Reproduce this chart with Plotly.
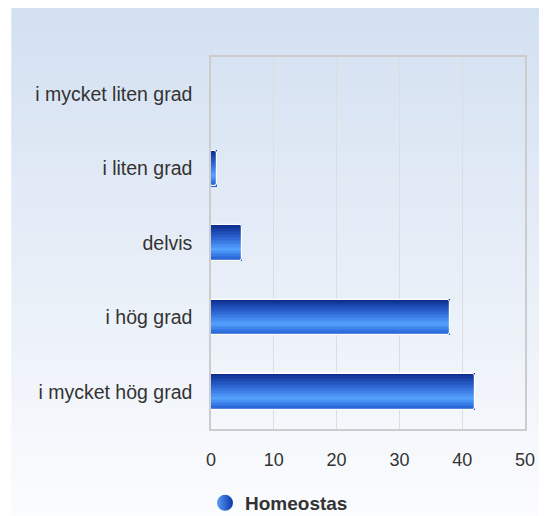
import plotly.graph_objects as go

categories = ["i mycket liten grad", "i liten grad", "delvis", "i hög grad", "i mycket hög grad"]
values = [0, 0.9, 5, 38, 42]
series_name = "Homeostas"
x_ticks = [0, 10, 20, 30, 40, 50]

# page has an 8px body margin, so the figure is drawn 8px smaller / shifted
W, H = 539, 508
L, R, T, B = 203, 519, 49, 421
pw, ph = R - L, B - T

def px_to_paper(x, y):
    return (x - L) / pw, (B - y) / ph

def lerp(c1, c2, t):
    return tuple(round(a + (b - a) * t) for a, b in zip(c1, c2))

def hexrgb(h):
    h = h.lstrip('#')
    return tuple(int(h[i:i+2], 16) for i in (0, 2, 4))

fig = go.Figure()

# vertical gradient inside each bar, built from thin overlaid bar strips
bar_w = 0.48
stops = [(0.0, hexrgb('#0a2a88')), (0.35, hexrgb('#2a62d0')), (0.7, hexrgb('#55a2ff')), (1.0, hexrgb('#1d5ad0'))]
def grad(t):
    for (t0, c0), (t1, c1) in zip(stops[:-1], stops[1:]):
        if t <= t1:
            return lerp(c0, c1, (t - t0) / (t1 - t0))
    return stops[-1][1]

N = 24
sw = bar_w / N
for i in range(N):
    t = (i + 0.5) / N
    c = grad(t)
    fig.add_trace(go.Bar(
        y=categories, x=values, orientation='h',
        width=sw * 1.08, offset=-bar_w / 2 + i * sw,
        marker=dict(color=f'rgb{c}', line=dict(width=0)),
        showlegend=False, hoverinfo='skip'))

# white outline
fig.add_trace(go.Bar(
    y=categories, x=values, orientation='h', width=bar_w,
    marker=dict(color='rgba(0,0,0,0)', line=dict(color='white', width=1.2), cornerradius=3),
    showlegend=False, name=series_name))

# legend entry
fig.add_trace(go.Scatter(
    x=[None], y=[None], mode='markers', name=series_name,
    marker=dict(symbol='circle', size=20, color='#5a9cf5',
                gradient=dict(type='horizontal', color='#0a36a8'))))

# background gradient panel
shapes = []
top_c, bot_c = hexrgb('#d3e0f1'), hexrgb('#fbfcfe')
y_top, y_bot = 0, 508
n = 60
for k in range(n):
    ya = y_top + (y_bot - y_top) * k / n
    yb = y_top + (y_bot - y_top) * (k + 1) / n + 0.6
    c = lerp(top_c, bot_c, (k + 0.5) / n)
    x0, y0 = px_to_paper(2, ya)
    x1, y1 = px_to_paper(540, yb)
    shapes.append(dict(type='rect', xref='paper', yref='paper', x0=x0, x1=x1, y0=y0, y1=y1,
                       fillcolor=f'rgb{c}', line=dict(width=0), layer='below'))

fig.update_layout(
    width=W, height=H,
    margin=dict(l=L, r=W - R, t=T, b=H - B, pad=0),
    paper_bgcolor='white', plot_bgcolor='rgba(0,0,0,0)',
    barmode='overlay', bargap=0,
    shapes=shapes,
    font=dict(family='Liberation Sans, Arial, sans-serif', color='#333333'),
    showlegend=True,
    legend=dict(orientation='h', xref='container', yref='container',
                x=197 / W, y=1 - 495 / H, xanchor='left', yanchor='middle',
                bgcolor='rgba(0,0,0,0)', font=dict(size=19, color='#333333', weight='bold'),
                itemsizing='trace'),
    xaxis=dict(range=[0, 50], tickvals=x_ticks, ticktext=[str(v) for v in x_ticks],
               showgrid=True, gridcolor='#dddddd', gridwidth=1, zeroline=False,
               showline=True, linecolor='#cccccc', linewidth=1.5, mirror=True,
               ticks='outside', ticklen=14, tickcolor='rgba(0,0,0,0)',
               tickfont=dict(size=18, color='#333333'), fixedrange=True),
    yaxis=dict(type='category', categoryorder='array', categoryarray=categories,
               autorange='reversed', showgrid=False, zeroline=False,
               showline=True, linecolor='#cccccc', linewidth=1.5, mirror=True,
               ticks='outside', ticklen=13, tickcolor='rgba(0,0,0,0)',
               tickfont=dict(size=19.5, color='#333333'), fixedrange=True),
)

fig.write_html("out.html")
